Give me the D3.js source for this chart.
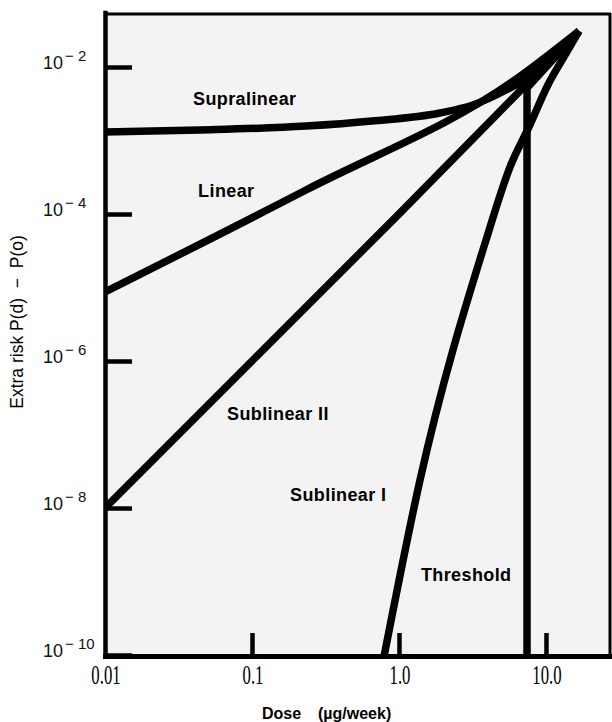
<!DOCTYPE html>
<html>
<head>
<meta charset="utf-8">
<script src="https://cdn.jsdelivr.net/npm/d3@7/dist/d3.min.js"></script>
<style>
  body { margin: 0; background: #fff; }
  svg { display: block; }
</style>
</head>
<body>
<figure id="chart" style="margin:0"></figure>
<script>
// dose (ug/week) vs extra risk P(d) - P(o)
const supralinear = [[0.01, 1.31e-3], [0.044, 1.39e-3], [0.233, 1.57e-3], [0.655, 1.84e-3], [1.9, 2.37e-3],
  [3.18, 3.04e-3], [5.35, 4.87e-3], [9.1, 9.1e-3], [16.8, 0.031]];
const linear = [[0.01, 8.7e-6], [0.233, 2.12e-4], [6.55, 7.31e-3], [16.8, 0.031]];
const sublinearII = [[0.01, 1e-8], [1, 1e-4], [16.8, 0.031]];
const sublinearI = [[0.79, 9.4e-11], [1.39, 2.4e-8], [3.91, 4.43e-5], [5.69, 4.36e-4], [7.78, 1.63e-3],
  [10.3, 5.69e-3], [13.5, 0.0146], [16.8, 0.031]];
const threshold = [[7.43, 9.4e-11], [7.43, 5.2e-3], [16.8, 0.031]];

const curveNames = ["Supralinear", "Linear", "Sublinear II", "Sublinear I", "Threshold"];
// where each name sits, in dose / risk units (start of text, baseline)
const nameDose = [0.0397, 0.043, 0.0676, 0.1815, 1.41];
const nameRisk = [3.04e-3, 1.7e-4, 1.57e-7, 1.25e-8, 1.02e-9];

const xTicks = [0.01, 0.1, 1, 10];
const xTickLabels = ["0.01", "0.1", "1.0", "10.0"];
const yTicks = [1e-2, 1e-4, 1e-6, 1e-8, 1e-10];
const yTickExps = ["2", "4", "6", "8", "10"];

const width = 612;
const height = 722;
const sans = "'Liberation Sans', Arial, Helvetica, sans-serif";

const svg = d3.select("figure#chart")
  .append("svg")
  .attr("width", width)
  .attr("height", height);

const x = d3.scaleLog().domain([0.01, 28]).range([105, 611.7]);
const y = d3.scaleLog().domain([1e-10, 0.055]).range([655, 12.6]);

const plotL = x.range()[0], plotR = 610, plotT = 13, plotB = 656;

// light grey plot area (the scan is speckled)
svg.append("rect")
  .attr("x", plotL).attr("y", plotT)
  .attr("width", plotR - plotL).attr("height", plotB - plotT)
  .attr("fill", "#f3f3f3");

svg.append("clipPath").attr("id", "plot")
  .append("rect")
  .attr("x", plotL).attr("y", plotT)
  .attr("width", plotR - plotL).attr("height", plotB - plotT);

// frame: top and right edges
svg.append("line")
  .attr("x1", plotL).attr("x2", plotR + 1).attr("y1", plotT + 1).attr("y2", plotT + 1)
  .attr("stroke", "#000").attr("stroke-width", 3);
svg.append("line")
  .attr("x1", plotR).attr("x2", plotR).attr("y1", plotT).attr("y2", plotB)
  .attr("stroke", "#000").attr("stroke-width", 3);

// y axis, ticks point into the plot
const yAxis = svg.append("g")
  .attr("transform", "translate(" + plotL + ",0)")
  .call(d3.axisLeft(y).tickValues(yTicks).tickSize(-27).tickSizeOuter(0).tickFormat(() => ""));
yAxis.select(".domain").attr("stroke-width", 4.5).attr("stroke-linecap", "square");
yAxis.selectAll(".tick line").attr("stroke-width", 4.5);

// x axis
const xAxis = svg.append("g")
  .attr("transform", "translate(0," + plotB + ")")
  .call(d3.axisBottom(x).tickValues(xTicks.slice(1)).tickSize(-23).tickSizeOuter(0).tickFormat(() => ""));
xAxis.select(".domain").attr("stroke-width", 5).attr("stroke-linecap", "square");
xAxis.selectAll(".tick line").attr("stroke-width", 4.5);

// y tick labels 10^-n
const yLab = svg.selectAll(".ylab")
  .data(yTicks)
  .enter()
  .append("text")
  .attr("class", "ylab")
  .attr("x", 43)
  .attr("y", d => y(d) + 2)
  .style("font-family", sans)
  .style("font-size", "18px")
  .attr("fill", "#111");
yLab.append("tspan").text("10");
yLab.append("tspan")
  .attr("dx", 2).attr("dy", -8)
  .style("font-size", "15px")
  .style("white-space", "pre")
  .text((d, i) => "\u2212 " + yTickExps[i]);

// x tick labels, narrow serif
svg.selectAll(".xlab")
  .data(xTicks)
  .enter()
  .append("text")
  .attr("class", "xlab")
  .attr("transform", d => "translate(" + (x(d) + 1) + ",684) scale(0.62,1)")
  .attr("text-anchor", "middle")
  .style("font-family", "'Liberation Serif', 'Times New Roman', serif")
  .style("font-size", "27px")
  .text((d, i) => xTickLabels[i]);

// axis titles
svg.append("text")
  .attr("transform", "translate(23,322) rotate(-90)")
  .attr("text-anchor", "middle")
  .style("font-family", sans)
  .style("font-size", "17.5px")
  .style("white-space", "pre")
  .text("Extra risk P(d)  \u2212  P(o)");

const xTitle = svg.append("text")
  .attr("y", 719)
  .style("font-family", sans)
  .style("font-size", "16px")
  .style("font-weight", "bold");
xTitle.append("tspan").attr("x", 262).text("Dose");
xTitle.append("tspan").attr("x", 318).text("(\u00b5g/week)");

// the five dose-response curves
const smooth = d3.line()
  .x(d => x(d[0]))
  .y(d => y(d[1]))
  .curve(d3.curveMonotoneX);
const straight = d3.line()
  .x(d => x(d[0]))
  .y(d => y(d[1]));

const curves = svg.append("g").attr("clip-path", "url(#plot)");
[supralinear, linear, sublinearII, sublinearI].forEach(series => {
  curves.append("path")
    .attr("d", smooth(series))
    .attr("fill", "none")
    .attr("stroke", "#000")
    .attr("stroke-width", 7.5)
    .attr("stroke-linejoin", "round");
});
curves.append("path")
  .attr("d", straight(threshold))
  .attr("fill", "none")
  .attr("stroke", "#000")
  .attr("stroke-width", 7.5)
  .attr("stroke-linejoin", "round");

// curve names
svg.selectAll(".name")
  .data(curveNames)
  .enter()
  .append("text")
  .attr("class", "name")
  .attr("x", (d, i) => x(nameDose[i]))
  .attr("y", (d, i) => y(nameRisk[i]))
  .style("font-family", sans)
  .style("font-size", "18px")
  .style("font-weight", "bold")
  .style("letter-spacing", "0.4px")
  .text(d => d);
</script>
</body>
</html>
